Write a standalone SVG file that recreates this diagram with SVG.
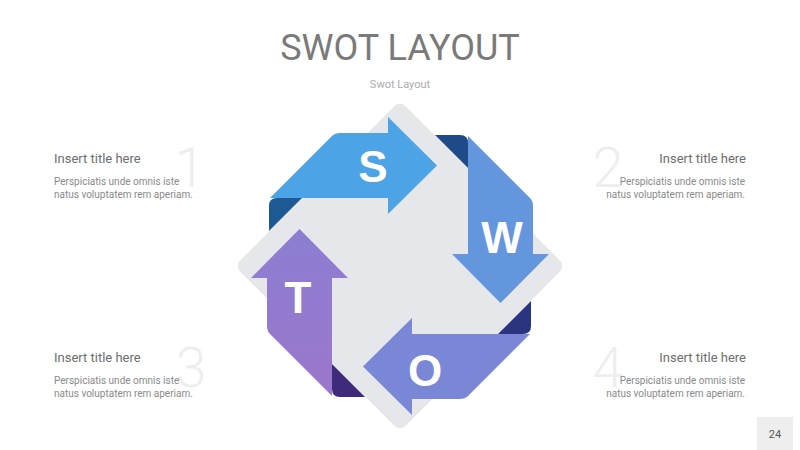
<svg xmlns="http://www.w3.org/2000/svg" width="800" height="450" viewBox="0 0 800 450">
  <defs>
    <linearGradient id="gT" x1="0" y1="0" x2="1" y2="0">
      <stop offset="0" stop-color="#9B77CB"/>
      <stop offset="1" stop-color="#8C7ED2"/>
    </linearGradient>
    <path id="band" d="M -130,-68 L -68,-130 Q -65,-133 -60,-133 L -12,-133 L -12,-149 L 37,-100.5 L -12,-52 L -12,-68 Z"/>
    <path id="fold" d="M -123,-68 L -98,-68 L -131,-35 L -131,-60 Q -131,-68 -123,-68 Z"/>
  </defs>
  <style>
    .h1 { font-family: Roboto, "Noto Sans", "Liberation Sans", sans-serif; font-size: 36px; fill: #7a7a7a; }
    .sub { font-family: Roboto, "Noto Sans", "Liberation Sans", sans-serif; font-size: 11px; fill: #ababab; }
    .ttl { font-family: Roboto, "Noto Sans", "Liberation Sans", sans-serif; font-size: 13px; fill: #6e6e6e; }
    .body { font-family: Roboto, "Noto Sans", "Liberation Sans", sans-serif; font-size: 10px; fill: #8a8a8a; }
    .num { font-family: Roboto, "Noto Sans", "Liberation Sans", sans-serif; font-weight: 300; font-size: 56px; fill: #eeeeee; text-anchor: middle; }
    .let { font-family: "Liberation Sans", Arial, sans-serif; font-weight: bold; font-size: 44px; fill: #ffffff; text-anchor: middle; }
    .pg { font-family: Roboto, "Noto Sans", "Liberation Sans", sans-serif; font-size: 11px; fill: #555555; text-anchor: middle; }
  </style>
  <rect width="800" height="450" fill="#ffffff"/>

  <text class="h1" x="400" y="60" text-anchor="middle">SWOT LAYOUT</text>
  <text class="sub" x="400" y="88" text-anchor="middle">Swot Layout</text>

  <!-- central diamond -->
  <g id="diamond">
    <rect x="-117" y="-117" width="234" height="234" rx="8" fill="#E6E7EB" transform="translate(400,266) rotate(45)"/>
  </g>

  <!-- connectors (ribbon folds) -->
  <g id="connectors">
    <use href="#fold" fill="#1D5A93" transform="translate(400,266)"/>
    <use href="#fold" fill="#1E4A88" transform="translate(400,266) rotate(90)"/>
    <use href="#fold" fill="#2A347F" transform="translate(400,266) rotate(180)"/>
    <use href="#fold" fill="#3E2B7B" transform="translate(400,266) rotate(270)"/>
  </g>

  <g id="node-s">
    <use href="#band" fill="#4CA3E5" transform="translate(400,266)"/>
    <text class="let" x="373" y="182">S</text>
  </g>
  <g id="node-w">
    <use href="#band" fill="#6496DE" transform="translate(400,266) rotate(90)"/>
    <text class="let" x="502" y="253">W</text>
  </g>
  <g id="node-o">
    <use href="#band" fill="#7A87D6" transform="translate(400,266) rotate(180)"/>
    <text class="let" x="425" y="386">O</text>
  </g>
  <g id="node-t">
    <use href="#band" fill="url(#gT)" transform="translate(400,266) rotate(270)"/>
    <text class="let" x="298" y="313">T</text>
  </g>

  <g id="item-1">
    <text class="num" x="190" y="187">1</text>
    <text class="ttl" x="54" y="163">Insert title here</text>
    <text class="body" x="54" y="185">Perspiciatis unde omnis iste</text>
    <text class="body" x="54" y="198">natus voluptatem rem aperiam.</text>
  </g>
  <g id="item-2">
    <text class="num" x="608" y="187">2</text>
    <text class="ttl" x="746" y="163" text-anchor="end">Insert title here</text>
    <text class="body" x="745" y="185" text-anchor="end">Perspiciatis unde omnis iste</text>
    <text class="body" x="745" y="198" text-anchor="end">natus voluptatem rem aperiam.</text>
  </g>
  <g id="item-3">
    <text class="num" x="191" y="387">3</text>
    <text class="ttl" x="54" y="362">Insert title here</text>
    <text class="body" x="54" y="384">Perspiciatis unde omnis iste</text>
    <text class="body" x="54" y="397">natus voluptatem rem aperiam.</text>
  </g>
  <g id="item-4">
    <text class="num" x="608" y="387">4</text>
    <text class="ttl" x="746" y="362" text-anchor="end">Insert title here</text>
    <text class="body" x="745" y="384" text-anchor="end">Perspiciatis unde omnis iste</text>
    <text class="body" x="745" y="397" text-anchor="end">natus voluptatem rem aperiam.</text>
  </g>

  <g id="page">
    <rect x="757" y="417" width="36" height="33" fill="#EEEEEE"/>
    <text class="pg" x="775" y="438">24</text>
  </g>
</svg>
